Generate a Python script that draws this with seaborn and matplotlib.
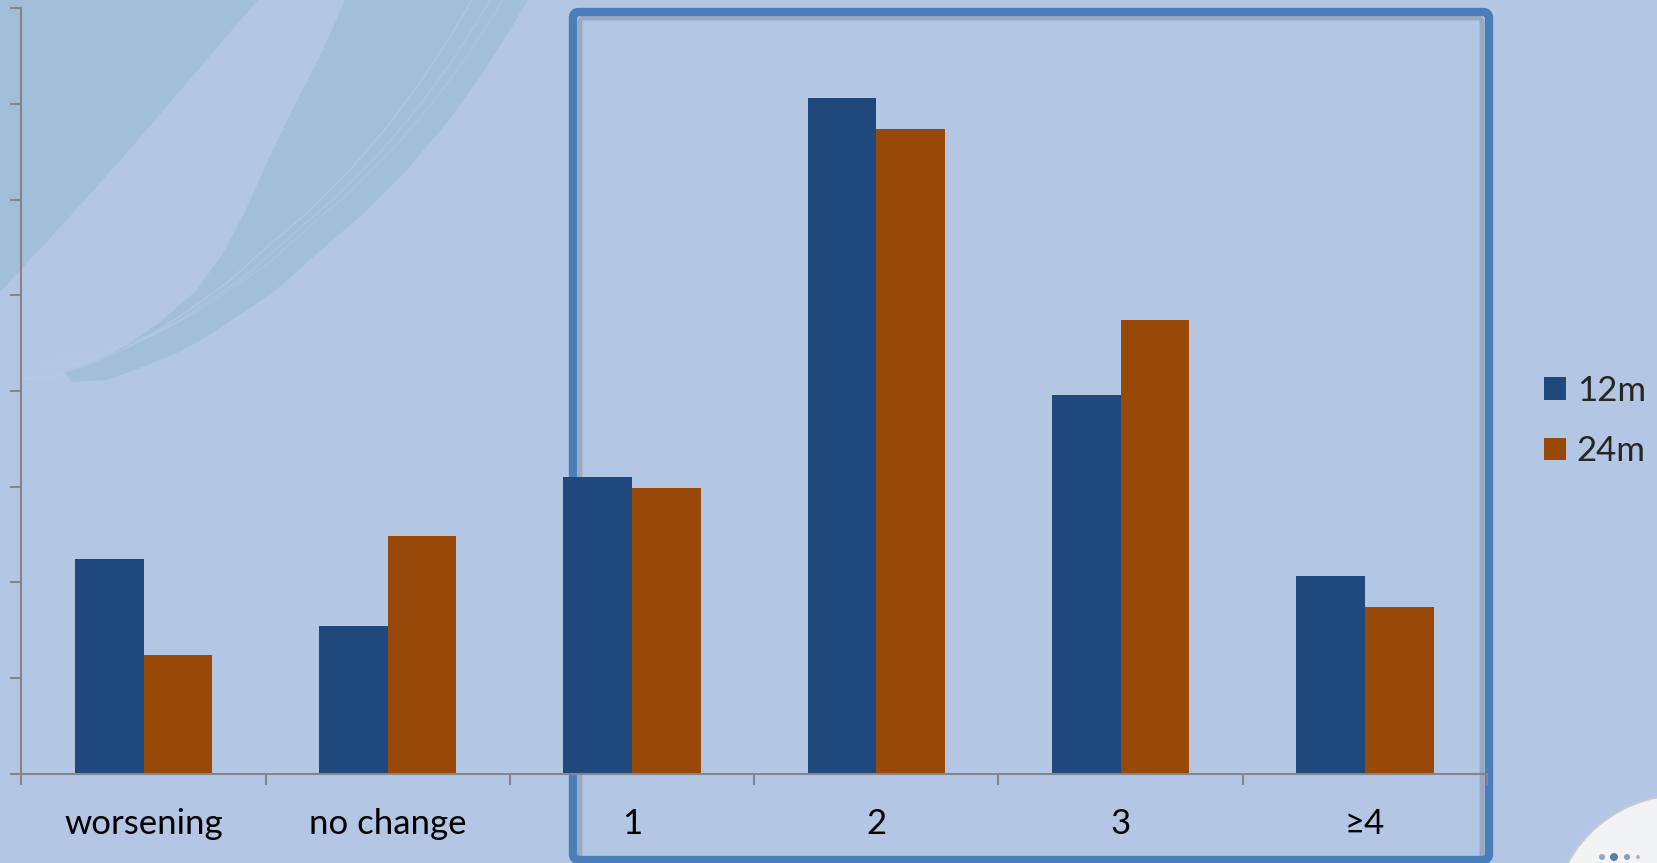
import numpy as np
import pandas as pd
import matplotlib
matplotlib.use("Agg")
import matplotlib.pyplot as plt
from matplotlib.patches import Polygon, FancyBboxPatch, Circle, Rectangle
import seaborn as sns

# Outcome categories and share of patients (%) at each follow-up
categories = ["worsening", "no change", "1", "2", "3", "≥4"]
series_names = ["12m", "24m"]
values_12m = [11.2, 7.7, 15.5, 35.3, 19.8, 10.3]
values_24m = [6.2, 12.4, 14.9, 33.7, 23.7, 8.7]
y_ticks = [0, 5, 10, 15, 20, 25, 30, 35, 40]

BG = "#B3C6E3"
BLUE = "#1F497D"
ORANGE = "#984807"
AXIS = "#868686"
FRAME = "#4A7EBB"

sns.set_theme(style="white")
plt.rcParams["font.family"] = ["Lato", "DejaVu Sans"]

df = pd.DataFrame({
    "category": categories * 2,
    "value": values_12m + values_24m,
    "series": [series_names[0]] * len(categories) + [series_names[1]] * len(categories),
})

W, H = 1658, 863
fig = plt.figure(figsize=(W / 100, H / 100), dpi=100, facecolor=BG)

# Decorative backdrop layer in pixel coordinates
bg = fig.add_axes([0, 0, 1, 1], zorder=0)
bg.set_xlim(0, W)
bg.set_ylim(H, 0)
bg.axis("off")
bg.set_facecolor("none")

stroke_col = "#9EBCD6"
stroke1 = [(0, 0), (258, 0), (232, 30), (185, 85), (125, 155), (62, 225), (0, 292)]
bg.add_patch(Polygon(stroke1, closed=True, facecolor=stroke_col, edgecolor="none", alpha=0.8))
stroke2 = [(528, 0), (505, 38), (478, 80), (445, 125), (405, 172), (362, 215), (321, 250),
           (282, 285), (250, 308), (210, 335), (179, 352), (140, 368), (107, 380), (72, 382),
           (64, 372), (92, 362), (125, 346), (160, 322), (195, 292), (222, 255), (245, 212),
           (268, 160), (295, 105), (322, 52), (345, 0)]
bg.add_patch(Polygon(stroke2, closed=True, facecolor=stroke_col, edgecolor="none", alpha=0.75))
# fine streaks along the brush stroke
for off, a in [(-14, 0.45), (12, 0.35), (30, 0.3)]:
    xs = np.array([c[0] for c in stroke2[:14]]) - 40 + off
    ys = np.array([c[1] for c in stroke2[:14]]) - 10 - off * 0.5
    bg.plot(xs, ys, color="#BCD0E6", alpha=a, linewidth=1.2)

# Highlight frame around the improvement categories
bg.add_patch(FancyBboxPatch((580, 18), 1482 - 580, 860 - 18,
                            boxstyle="round,pad=0,rounding_size=4",
                            facecolor="none", edgecolor="#7F8DA3", linewidth=3.5, alpha=0.5))
bg.add_patch(FancyBboxPatch((573, 12), 1489 - 573, 848,
                            boxstyle="round,pad=0,rounding_size=6",
                            facecolor="none", edgecolor=FRAME, linewidth=6))

# Corner emblem
bg.add_patch(Circle((1682, 925), 130, facecolor="#F2F3F5", edgecolor="#C5CAD2", linewidth=1.5))
for dx, s, c in [(1602, 3, "#9AA8BC"), (1614, 4, "#5C7FA8"), (1627, 3, "#8A9CB6"), (1638, 2, "#A8B4C6")]:
    bg.add_patch(Circle((dx, 857), s, facecolor=c, edgecolor="none"))

# Main chart axes
ax = fig.add_axes([21.4 / W, 1 - 773.5 / H, (1487 - 21.4) / W, (773.5 - 8.3) / H], zorder=1)
ax.set_facecolor("none")

sns.barplot(data=df, x="category", y="value", hue="series", order=categories,
            hue_order=series_names, palette=[BLUE, ORANGE], width=0.562, gap=0,
            saturation=1, legend=False, ax=ax, linewidth=0, edgecolor="none",
            err_kws={"linewidth": 0})

ax.set_xlim(-0.5, len(categories) - 0.5)
ax.set_ylim(0, 40)
ax.set_yticks(y_ticks)
ax.set_yticklabels([])
ax.set_xlabel("")
ax.set_ylabel("")
ax.grid(False)

for side in ["top", "right"]:
    ax.spines[side].set_visible(False)
for side in ["left", "bottom"]:
    ax.spines[side].set_color(AXIS)
    ax.spines[side].set_linewidth(1.5)

ax.tick_params(axis="y", which="major", direction="out", length=8, width=1.5, color=AXIS, left=True)
ax.set_xticks(np.arange(len(categories)))
ax.set_xticklabels(categories, fontsize=25, color="black")
ax.set_xticks(np.arange(len(categories) + 1) - 0.5, minor=True)
ax.tick_params(axis="x", which="major", length=0, pad=25)
ax.tick_params(axis="x", which="minor", direction="out", length=8, width=1.5, color=AXIS, bottom=True)

# Legend with square swatches on the right
handles = [Rectangle((0, 0), 1, 1, facecolor=c, edgecolor="none") for c in [BLUE, ORANGE]]
fig.legend(handles, series_names, loc="center left", bbox_to_anchor=(1544 / W, 1 - 421 / H),
           frameon=False, fontsize=25, handlelength=0.62, handleheight=0.62,
           handletextpad=0.32, labelspacing=0.82, borderaxespad=0, borderpad=0)

fig.savefig("out.png", dpi=100, facecolor=BG)
